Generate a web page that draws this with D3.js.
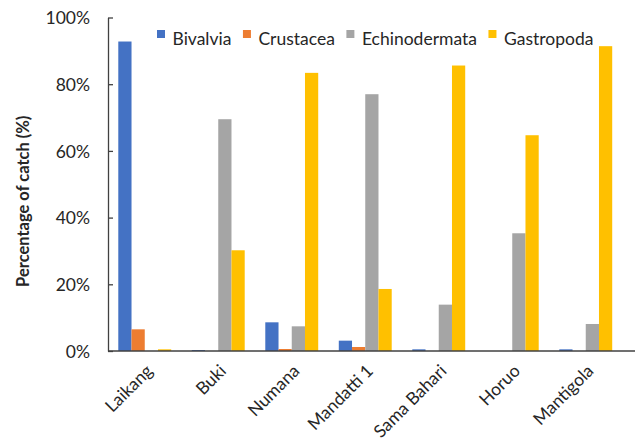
<!DOCTYPE html>
<html>
<head>
<meta charset="utf-8">
<script src="https://cdn.jsdelivr.net/npm/d3@7"></script>
<style>
  body { margin: 0; background: #fff; }
  text { font-family: Lato, "Open Sans", sans-serif; fill: #262626; }
</style>
</head>
<body>
<div id="viz"></div>
<script>
const width = 635;
const height = 444;
const margin = {top: 17.5, right: 12.5, bottom: 93, left: 108};

// Data (% of catch)
const sites = ['Laikang', 'Buki', 'Numana', 'Mandatti 1', 'Sama Bahari', 'Horuo', 'Mantigola'];
const groups = ['Bivalvia', 'Crustacea', 'Echinodermata', 'Gastropoda'];
const bivalvia      = [92.8, 0.3, 8.6, 3.1, 0.5, 0, 0.5];
const crustacea     = [6.5, 0, 0.6, 1.2, 0, 0, 0];
const echinodermata = [0, 69.5, 7.4, 77.0, 13.9, 35.3, 8.1];
const gastropoda    = [0.5, 30.2, 83.4, 18.6, 85.6, 64.7, 91.4];
const yTicks = [0, 20, 40, 60, 80, 100];
const colors = ['#4472C4', '#ED7D31', '#A5A5A5', '#FFC000'];

const series = [bivalvia, crustacea, echinodermata, gastropoda];

const svg = d3.select('#viz')
  .append('svg')
    .attr('width', width)
    .attr('height', height);

const xScale = d3.scaleBand()
  .domain(sites)
  .range([margin.left, width - margin.right])
  .paddingInner(0.28)
  .paddingOuter(0.14);

const xInner = d3.scaleBand()
  .domain(groups)
  .range([0, xScale.bandwidth()]);

const yScale = d3.scaleLinear()
  .domain([0, 100])
  .range([height - margin.bottom, margin.top]);

const color = d3.scaleOrdinal().domain(groups).range(colors);

// bars
groups.forEach((g, gi) => {
  svg.append('g')
    .selectAll('rect')
    .data(series[gi])
    .join('rect')
      .attr('x', (d, i) => xScale(sites[i]) + xInner(g))
      .attr('y', d => yScale(d))
      .attr('width', xInner.bandwidth())
      .attr('height', d => yScale(0) - yScale(d))
      .attr('fill', color(g));
});

// y axis
const yAxis = d3.axisRight(yScale)
  .tickValues(yTicks)
  .tickFormat(d => d + '%')
  .tickSize(5)
  .tickSizeOuter(0);
const yAxisGroup = svg.append('g')
  .attr('transform', `translate(${margin.left}, 0)`)
  .call(yAxis);
yAxisGroup.select('.domain').attr('stroke', '#404040').attr('stroke-width', 1.3);
yAxisGroup.selectAll('.tick line').attr('stroke', '#404040').attr('stroke-width', 1.3);
yAxisGroup.selectAll('.tick text')
  .attr('x', -18)
  .attr('text-anchor', 'end')
  .attr('dy', '0.35em')
  .style('font-size', '17.5px')
  .attr('fill', '#262626');

// x axis line, running to the edge
svg.append('line')
  .attr('x1', margin.left)
  .attr('x2', width)
  .attr('y1', yScale(0))
  .attr('y2', yScale(0))
  .attr('stroke', '#404040')
  .attr('stroke-width', 1.5);

// x labels
svg.append('g')
  .selectAll('text')
  .data(sites)
  .join('text')
    .attr('transform', d => `translate(${xScale(d) + xScale.bandwidth() / 2 + 9}, ${yScale(0) + 21}) rotate(-45)`)
    .attr('text-anchor', 'end')
    .style('font-size', '17.5px')
    .text(d => d);

// y title
svg.append('text')
  .attr('transform', `translate(29, ${(yScale(0) + yScale(100)) / 2 + 17}) rotate(-90)`)
  .attr('text-anchor', 'middle')
  .style('font-size', '16.5px')
  .style('font-weight', 700)
  .text('Percentage of catch (%)');

// legend
let lx = 157;
const legend = svg.append('g');
groups.forEach(g => {
  legend.append('rect')
    .attr('x', lx)
    .attr('y', 30)
    .attr('width', 8)
    .attr('height', 8)
    .attr('fill', color(g));
  const t = legend.append('text')
    .attr('x', lx + 15.5)
    .attr('y', 45)
    .style('font-size', '17.5px')
    .text(g);
  lx += 15.5 + t.node().getComputedTextLength() + 11.5;
});
</script>
</body>
</html>
